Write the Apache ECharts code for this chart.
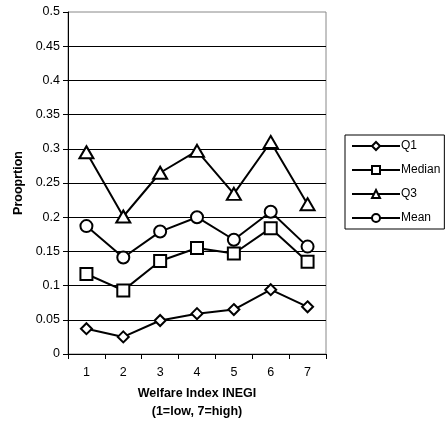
<!DOCTYPE html>
<html>
<head>
<meta charset="utf-8">
<script src="https://cdn.jsdelivr.net/npm/echarts@6/dist/echarts.min.js"></script>
<style>
  html, body { margin: 0; padding: 0; background: #fff; }
  #chart { width: 448px; height: 423px; }
</style>
</head>
<body>
<div id="chart"></div>
<script>
// welfare index categories
const categories = ['1', '2', '3', '4', '5', '6', '7']
// values
const q1 = [0.037, 0.025, 0.049, 0.059, 0.065, 0.094, 0.069]
const median = [0.117, 0.093, 0.136, 0.155, 0.147, 0.184, 0.135]
const q3 = [0.295, 0.201, 0.265, 0.297, 0.234, 0.310, 0.219]
const mean = [0.187, 0.141, 0.179, 0.200, 0.167, 0.208, 0.157]

const font = '"Liberation Sans", Arial, sans-serif'

function makeSeries (name, data, symbol, size) {
  return {
    name: name,
    type: 'line',
    data: data,
    symbol: symbol,
    symbolSize: size,
    showAllSymbol: true,
    lineStyle: { color: '#000', width: 2 },
    itemStyle: { color: '#fff', borderColor: '#000', borderWidth: 2 },
    emphasis: { disabled: true },
    z: 3
  }
}

const chart = echarts.init(document.getElementById('chart'))
chart.setOption({
  animation: false,
  textStyle: { fontFamily: font },
  grid: {
    left: 68,
    right: 122,
    top: 12,
    bottom: 69,
    outerBoundsMode: 'none',
    show: true,
    borderColor: '#888',
    borderWidth: 1
  },
  legend: {
    orient: 'vertical',
    left: 345,
    top: 135,
    padding: [4, 4, 4, 6],
    itemWidth: 48,
    itemHeight: 10,
    itemGap: 10,
    borderColor: '#000',
    borderWidth: 1,
    textStyle: { fontSize: 12, lineHeight: 14, color: '#000', fontFamily: font, padding: [0, 0, 0, -4] },
    data: ['Q1', 'Median', 'Q3', 'Mean']
  },
  xAxis: {
    type: 'category',
    data: categories,
    boundaryGap: true,
    name: 'Welfare Index INEGI\n(1=low, 7=high)',
    nameLocation: 'middle',
    nameGap: 31,
    nameTextStyle: { fontSize: 12.5, fontWeight: 'bold', color: '#000', lineHeight: 18, fontFamily: font },
    axisLine: { lineStyle: { color: '#000', width: 1 } },
    axisTick: { show: true, length: 5, lineStyle: { color: '#000' } },
    axisLabel: { fontSize: 12.5, color: '#000', margin: 12 },
    splitLine: { show: false }
  },
  yAxis: {
    type: 'value',
    min: 0,
    max: 0.5,
    interval: 0.05,
    name: 'Prooprtion',
    nameLocation: 'middle',
    nameGap: 41,
    nameTextStyle: { fontSize: 12.5, fontWeight: 'bold', color: '#000', fontFamily: font },
    axisLine: { show: true, lineStyle: { color: '#000', width: 1 } },
    axisTick: { show: true, length: 5, lineStyle: { color: '#000' } },
    axisLabel: { fontSize: 12.5, color: '#000', margin: 8 },
    splitLine: { show: true, showMaxLine: false, lineStyle: { color: '#000', width: 1 } }
  },
  series: [
    makeSeries('Q1', q1, 'diamond', 11),
    makeSeries('Median', median, 'rect', 12),
    makeSeries('Q3', q3, 'triangle', [14, 12]),
    makeSeries('Mean', mean, 'circle', 12)
  ]
})
</script>
</body>
</html>
